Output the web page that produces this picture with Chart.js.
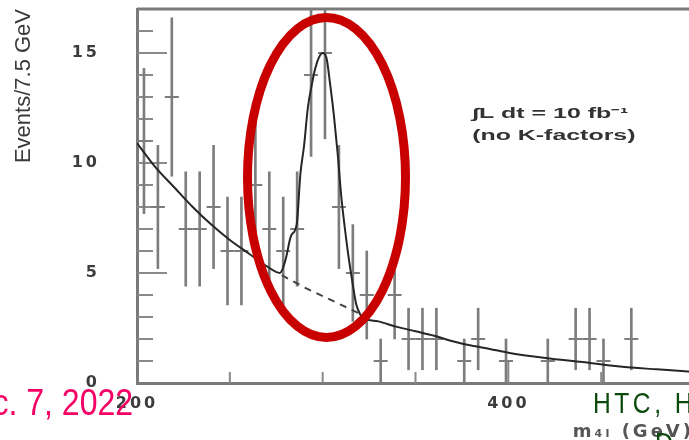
<!DOCTYPE html>
<html>
<head>
<meta charset="utf-8">
<script src="https://cdn.jsdelivr.net/npm/chart.js@4.4.1/dist/chart.umd.min.js"></script>
<style>
  html, body { margin: 0; padding: 0; background: #fff; overflow: hidden; }
  #wrap { position: relative; width: 689px; height: 440px; overflow: hidden; background: #fff; }
  #plot { position: absolute; left: 0; top: 0; filter: blur(0.5px); }
  #ring { position: absolute; left: 0; top: 0; }
  .slide { position: absolute; white-space: nowrap; font-family: "Liberation Sans", Arial, sans-serif; }
  #date { right: 556px; top: 385px; font-size: 36px; line-height: 36px; color: #f50064;
          transform: scaleX(0.89); transform-origin: right top; }
  #venue { left: 593px; top: 388px; font-size: 30px; line-height: 30px; color: #0a4a0a; letter-spacing: 4.3px;
           transform: scaleX(0.82); transform-origin: left top; }
  #who { left: 655px; top: 428px; font-size: 30px; line-height: 30px; color: #0a4a0a;
         transform: scaleX(0.82); transform-origin: left top; }
</style>
</head>
<body>
<div id="wrap">
  <canvas id="plot" width="720" height="460"></canvas>
  <svg id="ring" width="689" height="440">
    <ellipse cx="326.5" cy="177.5" rx="79" ry="160" fill="none" stroke="#c80000" stroke-width="9"/>
  </svg>
  <div class="slide" id="date">Dec. 7, 2022</div>
  <div class="slide" id="venue">HTC, H</div>
  <div class="slide" id="who">D</div>
</div>
<script>
// 7.5 GeV bins, 200 - 500 GeV
const binCenters = [
  203.75, 211.25, 218.75, 226.25, 233.75, 241.25, 248.75, 256.25, 263.75, 271.25,
  278.75, 286.25, 293.75, 301.25, 308.75, 316.25, 323.75, 331.25, 338.75, 346.25,
  353.75, 361.25, 368.75, 376.25, 383.75, 391.25, 398.75, 406.25, 413.75, 421.25,
  428.75, 436.25, 443.75, 451.25, 458.75, 466.25, 473.75, 481.25, 488.75, 496.25
];
const counts = [
  11, 8, 13, 7, 7, 8, 6, 6, 9, 7,
  6, 7, 14, 15, 8, 5, 4, 1, 4, 2,
  2, 2, 0, 1, 2, 0, 1, 0, 0, 1,
  0, 2, 2, 1, 0, 2, 0, 0, 0, 0
];
const errors = [
  3.3, 2.8, 3.6, 2.6, 2.6, 2.8, 2.45, 2.45, 3, 2.6,
  2.45, 2.6, 3.7, 3.9, 2.8, 2.2, 2, 1, 2, 1.4,
  1.4, 1.4, 0, 1, 1.4, 0, 1, 0, 0, 1,
  0, 1.4, 1.4, 1, 0, 1.4, 0, 0, 0, 0
];

// signal + background fit
const totalX = [200, 210, 220, 230, 240, 250, 260, 270, 277, 280, 283, 286, 288, 290, 292, 294, 296, 298,
  300, 302, 304, 306, 308, 310, 312, 314, 316, 318, 320, 322, 330, 340, 350, 360, 370, 380, 390, 400,
  420, 440, 460, 480, 500];
const totalY = [10.9, 9.8, 8.9, 8.0, 7.2, 6.5, 5.9, 5.3, 5.0, 5.6, 6.7, 7.2, 9.5, 10.8, 12.5, 13.5, 14.3, 14.8,
  15.0, 14.8, 13.6, 12.2, 10.5, 8.5, 7.0, 5.7, 4.6, 3.6, 3.15, 2.95, 2.8, 2.55, 2.35, 2.15, 1.9, 1.7, 1.55, 1.38,
  1.14, 0.95, 0.75, 0.62, 0.5];

// background only, under the peak
const bkgX = [278, 290, 300, 310, 320];
const bkgY = [4.9, 4.35, 3.95, 3.55, 3.15];

const xTicks = [200, 400];
const yTicks = [0, 5, 10, 15];
const yTitle = "Events/7.5 GeV";
const xTitle = "m\u2084\u2097 (GeV)";
const noteLines = ["\u222BL dt = 10 fb\u207B\u00B9", "(no K-factors)"];

const errBars = [];
const marks = [];
counts.forEach((n, i) => {
  if (n <= 0) return;
  errBars.push({ x: binCenters[i], y: [n - errors[i], n + errors[i]] });
  marks.push({ x: binCenters[i], y: n });
});

// the old plot lettering is wide; space out axis text, but not the y title
const spacing = {
  id: "spacing",
  beforeDraw(chart) {
    const ys = chart.scales.y;
    if (!ys._plainTitle) {
      const orig = ys.drawTitle;
      ys.drawTitle = function () {
        const c = this.ctx;
        const s = c.letterSpacing;
        c.letterSpacing = "0px";
        orig.call(this);
        c.letterSpacing = s;
      };
      ys._plainTitle = true;
    }
    chart.ctx.letterSpacing = "3px";
  },
  beforeDatasetsDraw(chart) {
    chart.ctx.letterSpacing = "0px";
  },
};

const innerTicks = {
  id: "innerTicks",
  beforeDatasetsDraw(chart) {
    const { ctx, chartArea: a, scales: { x, y } } = chart;
    ctx.save();
    ctx.strokeStyle = "#8a8a8a";
    ctx.lineWidth = 2;
    ctx.beginPath();
    for (let v = 1; v <= 17; v++) {
      const py = y.getPixelForValue(v);
      const len = v % 5 === 0 ? 30 : 16;
      ctx.moveTo(a.left, py);
      ctx.lineTo(a.left + len, py);
    }
    for (let v = 250; v <= 500; v += 50) {
      const px = x.getPixelForValue(v);
      const len = v % 200 === 0 ? 22 : 11;
      ctx.moveTo(px, a.bottom);
      ctx.lineTo(px, a.bottom - len);
    }
    ctx.stroke();
    ctx.strokeStyle = "#7a7a7a";
    ctx.lineWidth = 3;
    ctx.beginPath();
    ctx.moveTo(a.left, a.top);
    ctx.lineTo(a.right, a.top);
    ctx.stroke();
    ctx.restore();
  },
};

const note = {
  id: "note",
  afterDatasetsDraw(chart) {
    const { ctx, scales: { x, y } } = chart;
    ctx.save();
    ctx.letterSpacing = "0px";
    ctx.fillStyle = "#333";
    ctx.font = 'bold 14px "Liberation Sans", Arial, sans-serif';
    ctx.textBaseline = "middle";
    const px = x.getPixelForValue(380.5);
    [12.2, 11.2].forEach((v, i) => {
      ctx.save();
      ctx.translate(px, y.getPixelForValue(v));
      ctx.scale(1.78, 1);
      ctx.fillText(noteLines[i], 0, 0);
      ctx.restore();
    });
    ctx.restore();
  },
};

new Chart(document.getElementById("plot"), {
  type: "scatter",
  data: {
    datasets: [
      {
        type: "line",
        data: totalX.map((v, i) => ({ x: v, y: totalY[i] })),
        borderColor: "#262626",
        borderWidth: 2,
        pointRadius: 0,
        cubicInterpolationMode: "monotone",
        fill: false,
        order: 1,
      },
      {
        type: "line",
        data: bkgX.map((v, i) => ({ x: v, y: bkgY[i] })),
        borderColor: "#444",
        borderWidth: 2,
        borderDash: [7, 6],
        pointRadius: 0,
        fill: false,
        order: 2,
      },
      {
        type: "scatter",
        data: marks,
        pointStyle: "line",
        pointRadius: 7,
        borderColor: "#7d7d7d",
        borderWidth: 2,
        order: 3,
      },
      {
        type: "bar",
        data: errBars,
        backgroundColor: "#7d7d7d",
        barThickness: 2,
        grouped: false,
        clip: 0,
        order: 4,
      },
    ],
  },
  options: {
    responsive: false,
    animation: false,
    events: [],
    layout: { padding: { left: 0, top: 9, right: 26, bottom: 0 } },
    plugins: { legend: { display: false }, tooltip: { enabled: false } },
    scales: {
      x: {
        type: "linear",
        min: 200,
        max: 500,
        offset: false,
        grid: { display: false, drawTicks: false },
        border: { display: true, color: "#7a7a7a", width: 3 },
        afterBuildTicks: (s) => { s.ticks = xTicks.map((v) => ({ value: v })); },
        afterFit: (s) => { s.height = 77; },
        ticks: {
          padding: 11,
          maxRotation: 0,
          color: "#3c3c3c",
          font: { family: '"DejaVu Sans"', size: 16, weight: "bold" },
        },
        title: {
          display: true,
          text: xTitle,
          align: "end",
          color: "#555",
          padding: { top: 0, bottom: 17 },
          font: { family: '"DejaVu Sans"', size: 18, weight: "bold" },
        },
      },
      y: {
        min: 0,
        max: 17,
        grid: { display: false, drawTicks: false },
        border: { display: true, color: "#7a7a7a", width: 3 },
        afterBuildTicks: (s) => { s.ticks = yTicks.map((v) => ({ value: v })); },
        afterFit: (s) => { s.width = 137; s.paddingTop = 0; s.paddingBottom = 0; },
        ticks: {
          padding: 37,
          color: "#3c3c3c",
          font: { family: '"DejaVu Sans"', size: 16, weight: "bold" },
        },
        title: {
          display: true,
          text: yTitle,
          align: "end",
          color: "#3a3a3a",
          padding: { top: 11, bottom: 0 },
          font: { family: '"Liberation Sans", Arial, sans-serif', size: 22 },
        },
      },
    },
  },
  plugins: [spacing, innerTicks, note],
});
</script>
</body>
</html>
